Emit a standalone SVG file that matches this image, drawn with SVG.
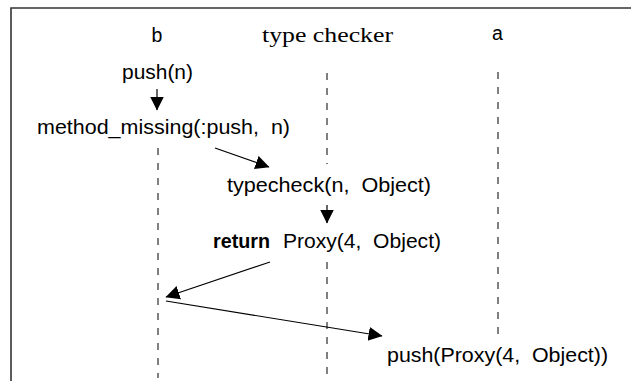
<svg xmlns="http://www.w3.org/2000/svg" width="631" height="381" viewBox="0 0 631 381">
<style>
.s{font-family:"Liberation Sans","DejaVu Sans",sans-serif;font-size:19.5px;fill:#000}
.r{font-family:"Liberation Serif","DejaVu Serif",serif;font-size:22px;fill:#000}
.ll{stroke:#000;stroke-width:1;stroke-dasharray:7 8;fill:none}
.msg{stroke:#000;stroke-width:1.2;fill:none;marker-end:url(#ah)}
</style>
<defs>
<marker id="ah" markerUnits="userSpaceOnUse" markerWidth="15" markerHeight="15" refX="13.5" refY="7" orient="auto" viewBox="0 0 15 15">
<path d="M0,0 L14,7 L0,14 z" fill="#000"/>
</marker>
</defs>
<rect width="631" height="381" fill="#fff"/>
<path d="M11,381 V8 H631" stroke="#333" stroke-width="1.6" fill="none"/>
<g id="lifelines">
<line class="ll" x1="158" y1="148" x2="158" y2="378"/>
<line class="ll" x1="327" y1="73" x2="327" y2="164"/>
<line class="ll" x1="327" y1="262" x2="327" y2="378"/>
<line class="ll" x1="498" y1="72" x2="498" y2="338"/>
</g>
<g id="node-b"><text class="s" x="157" y="42" text-anchor="middle">b</text></g>
<g id="node-typechecker"><text class="r" x="262" y="42" textLength="131" lengthAdjust="spacingAndGlyphs">type checker</text></g>
<g id="node-a"><text class="s" x="497.5" y="39.5" text-anchor="middle">a</text></g>
<g id="label-push"><text class="s" x="122" y="79" textLength="71" lengthAdjust="spacingAndGlyphs">push(n)</text></g>
<g id="label-method-missing"><text class="s" x="37" y="134" textLength="253" lengthAdjust="spacingAndGlyphs" xml:space="preserve">method_missing(:push,  n)</text></g>
<g id="label-typecheck"><text class="s" x="227" y="192" textLength="204" lengthAdjust="spacingAndGlyphs" xml:space="preserve">typecheck(n,  Object)</text></g>
<g id="label-return"><text class="s" x="213" y="248"><tspan font-weight="bold" textLength="57" lengthAdjust="spacingAndGlyphs">return</tspan><tspan x="283" textLength="158" lengthAdjust="spacingAndGlyphs" xml:space="preserve">Proxy(4,  Object)</tspan></text></g>
<g id="label-push-proxy"><text class="s" x="387" y="362" textLength="221" lengthAdjust="spacingAndGlyphs" xml:space="preserve">push(Proxy(4,  Object))</text></g>
<g id="connectors">
<line class="msg" x1="157" y1="89" x2="157" y2="110"/>
<line class="msg" x1="215" y1="148" x2="269" y2="167"/>
<line class="msg" x1="327" y1="205" x2="327" y2="223"/>
<line class="msg" x1="270" y1="262" x2="166" y2="297"/>
<line class="msg" x1="166" y1="301" x2="382" y2="336"/>
</g>
</svg>
